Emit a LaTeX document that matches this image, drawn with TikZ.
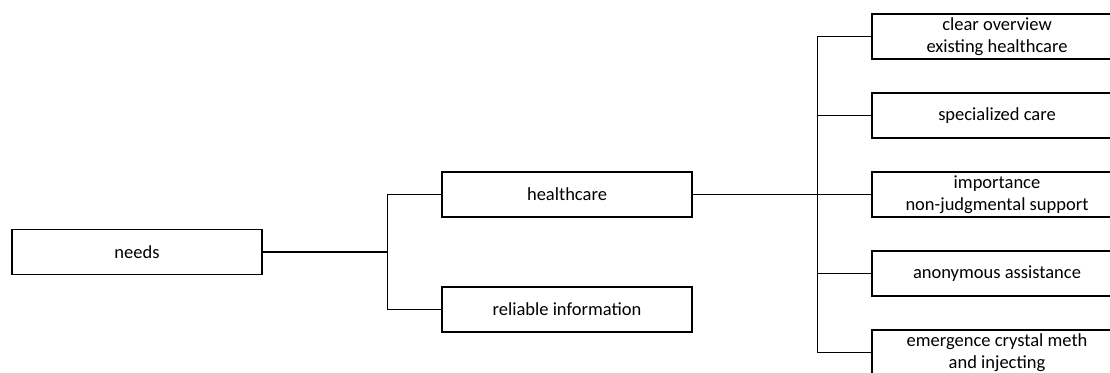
\documentclass[tikz,border=0pt]{standalone}
\usepackage{fontspec}
\setmainfont{Carlito}
\usepackage{tikz}
\usetikzlibrary{trees}
\tikzstyle{every node}=[draw=black,line width=1.2pt,minimum height=45pt,minimum width=250pt,inner sep=2pt]

\begin{document}
\begin{tikzpicture}[
        x=1pt,y=1pt,
        line width=1.2pt,
        font=\fontsize{18.5pt}{21.5pt}\selectfont,
        rootbox/.style={
                text centered,
                align=center
            },
        branch/.style={
                text centered,
                align=center
            },
        leaf/.style={
                text centered,
                align=center
            },
        grow'=right,
        edge from parent/.style={draw=black,line width=1.5pt},
        edge from parent path={(\tikzparentnode.east) -- ++(125pt,0) |- (\tikzchildnode.west)},
        level distance=430pt,
        level 1/.style={sibling distance=115pt},
        level 2/.style={sibling distance=79pt},
    ]
    \useasboundingbox (0,0) rectangle (1110,-372);
    \clip (0,0) rectangle (1110,-372);
    % Root
    \node[rootbox] (needs) at (137,-252) {needs}
    child{node[branch] (health) {healthcare}
            child{node[leaf] (overview) {clear overview\\existing healthcare}}
            child{node[leaf] (special) {specialized care}}
            child{node[leaf] (support) {importance\\non-judgmental support}}
            child{node[leaf] (anon) {anonymous assistance}}
            child{node[leaf] (meth) {emergence crystal meth\\and injecting}}
        }
    child{node[branch] (info) {reliable information}};
\end{tikzpicture}
\end{document}
